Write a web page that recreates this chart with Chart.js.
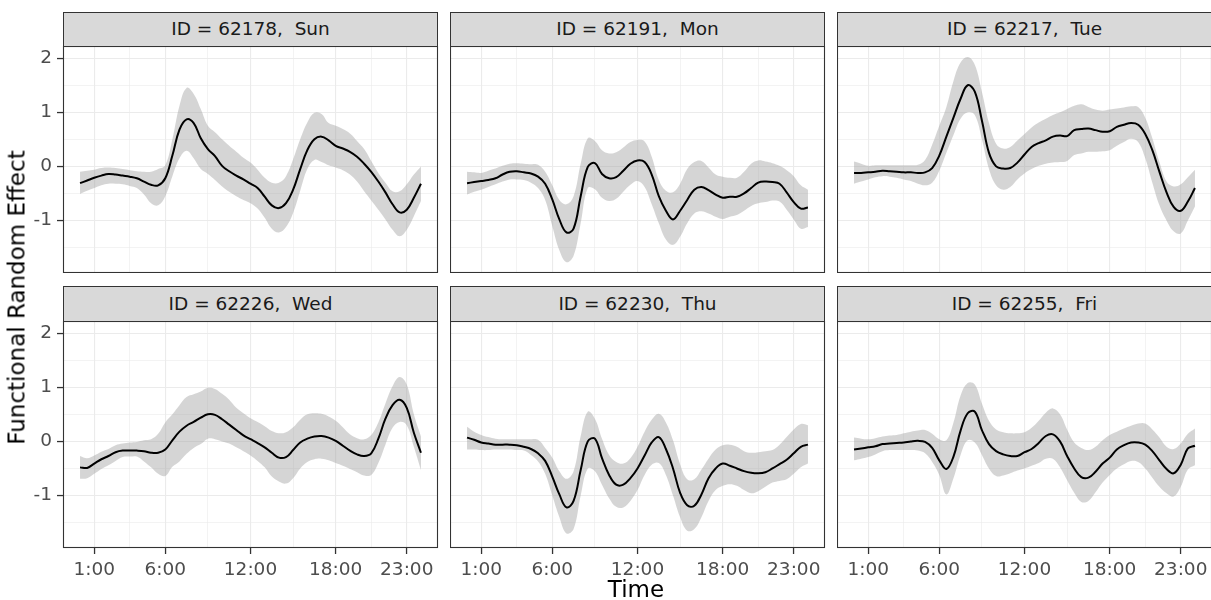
<!DOCTYPE html>
<html>
<head>
<meta charset="utf-8">
<script src="https://cdn.jsdelivr.net/npm/chart.js@4.4.1/dist/chart.umd.min.js"></script>
<style>
html,body{margin:0;padding:0;background:#ffffff;}
#wrap{position:relative;width:1211px;height:600px;overflow:hidden;font-family:"DejaVu Sans",sans-serif;background:#fff;}
#wrap canvas{position:absolute;}
.strip{position:absolute;box-sizing:border-box;background:#D9D9D9;border:1px solid #333333;color:#1A1A1A;font-size:18.5px;white-space:pre;display:flex;align-items:center;justify-content:center;line-height:1;}
.title{position:absolute;color:#000;font-size:23px;line-height:23px;height:23px;text-align:center;white-space:nowrap;}
</style>
</head>
<body>
<div id="wrap"></div>
<script>
// ---------------- data ----------------
const hours = [0,0.5,1,1.5,2,2.5,3,3.5,4,4.5,5,5.5,6,6.5,7,7.5,8,8.5,9,9.5,10,10.5,11,11.5,12,12.5,13,13.5,14,14.5,15,15.5,16,16.5,17,17.5,18,18.5,19,19.5,20,20.5,21,21.5,22,22.5,23,23.5,24];

const xTickValues = [1,6,12,18,23];
const xTickLabels = ['1:00','6:00','12:00','18:00','23:00'];
const xMinorValues = [3.5,9,15,20.5];
const yTickValues = [-1,0,1,2];
const yTickLabels = ['-1','0','1','2'];
const yMinorValues = [-1.5,-0.5,0.5,1.5];

const panelIds  = ['62178','62191','62217','62226','62230','62255'];
const panelDays = ['Sun','Mon','Tue','Wed','Thu','Fri'];

const fit62178 = [-0.31,-0.26,-0.21,-0.17,-0.14,-0.15,-0.17,-0.19,-0.22,-0.28,-0.34,-0.35,-0.22,0.20,0.68,0.87,0.80,0.52,0.32,0.19,0.01,-0.09,-0.17,-0.24,-0.32,-0.40,-0.56,-0.72,-0.77,-0.68,-0.43,-0.05,0.30,0.50,0.55,0.48,0.38,0.33,0.27,0.18,0.05,-0.10,-0.28,-0.48,-0.70,-0.85,-0.80,-0.58,-0.32];
const upper62178 = [-0.10,-0.08,-0.06,-0.03,-0.02,-0.03,-0.05,-0.07,-0.09,-0.10,-0.10,-0.05,0.02,0.50,1.12,1.45,1.34,1.06,0.75,0.63,0.50,0.38,0.27,0.16,0.07,-0.06,-0.21,-0.30,-0.30,-0.18,0.13,0.50,0.81,0.99,0.97,0.80,0.75,0.69,0.61,0.47,0.32,0.10,-0.12,-0.30,-0.46,-0.46,-0.33,-0.15,0.00];
const lower62178 = [-0.51,-0.45,-0.40,-0.35,-0.32,-0.32,-0.33,-0.36,-0.40,-0.52,-0.68,-0.72,-0.55,-0.18,0.15,0.29,0.15,-0.05,-0.14,-0.25,-0.37,-0.47,-0.55,-0.62,-0.68,-0.78,-0.95,-1.15,-1.22,-1.12,-0.86,-0.45,-0.05,0.12,0.08,0.02,-0.02,-0.07,-0.15,-0.28,-0.46,-0.63,-0.80,-0.98,-1.17,-1.29,-1.17,-0.92,-0.64];

const fit62191 = [-0.31,-0.29,-0.27,-0.25,-0.22,-0.15,-0.10,-0.09,-0.11,-0.13,-0.19,-0.32,-0.61,-0.98,-1.22,-1.15,-0.55,-0.01,0.06,-0.14,-0.22,-0.20,-0.08,0.05,0.11,0.08,-0.15,-0.55,-0.82,-0.98,-0.82,-0.62,-0.43,-0.38,-0.44,-0.52,-0.58,-0.56,-0.56,-0.50,-0.40,-0.30,-0.28,-0.29,-0.32,-0.48,-0.66,-0.78,-0.76];
const upper62191 = [-0.10,-0.11,-0.12,-0.08,-0.04,0.01,0.05,0.06,0.05,0.04,0.03,-0.10,-0.35,-0.62,-0.70,-0.55,0.05,0.52,0.47,0.30,0.24,0.26,0.35,0.45,0.49,0.46,0.18,-0.25,-0.45,-0.48,-0.32,-0.05,0.08,0.10,-0.02,-0.15,-0.19,-0.21,-0.21,-0.10,0.05,0.11,0.09,0.06,0.01,-0.07,-0.18,-0.35,-0.43];
const lower62191 = [-0.52,-0.47,-0.43,-0.38,-0.33,-0.28,-0.24,-0.24,-0.25,-0.30,-0.40,-0.62,-1.10,-1.55,-1.77,-1.65,-1.05,-0.40,-0.42,-0.58,-0.64,-0.60,-0.47,-0.34,-0.27,-0.38,-0.70,-1.05,-1.35,-1.45,-1.30,-1.05,-0.87,-0.83,-0.87,-0.93,-0.97,-0.93,-0.90,-0.82,-0.73,-0.68,-0.66,-0.63,-0.65,-0.80,-0.98,-1.15,-1.12];

const fit62217 = [-0.12,-0.12,-0.11,-0.10,-0.08,-0.09,-0.10,-0.11,-0.11,-0.12,-0.11,-0.03,0.20,0.55,0.90,1.25,1.50,1.38,0.85,0.25,0.00,-0.04,-0.03,0.07,0.22,0.36,0.43,0.48,0.55,0.57,0.56,0.67,0.69,0.70,0.67,0.64,0.65,0.73,0.77,0.80,0.77,0.60,0.30,-0.10,-0.48,-0.75,-0.82,-0.65,-0.40];
const upper62217 = [0.09,0.05,0.01,0.02,0.02,0.02,0.02,0.02,0.02,0.03,0.12,0.40,0.75,1.10,1.58,1.92,2.02,1.88,1.38,0.80,0.42,0.33,0.36,0.48,0.60,0.72,0.81,0.88,0.95,1.00,1.06,1.12,1.15,1.10,1.05,1.03,1.05,1.07,1.09,1.11,1.10,0.90,0.52,0.08,-0.28,-0.37,-0.33,-0.20,-0.06];
const lower62217 = [-0.32,-0.28,-0.24,-0.20,-0.18,-0.19,-0.21,-0.24,-0.27,-0.32,-0.35,-0.30,-0.08,0.25,0.58,0.88,1.00,0.95,0.50,-0.05,-0.35,-0.43,-0.38,-0.24,-0.13,-0.05,0.01,0.05,0.07,0.08,0.10,0.21,0.24,0.27,0.27,0.28,0.30,0.38,0.45,0.51,0.45,0.15,-0.30,-0.72,-1.00,-1.20,-1.24,-1.00,-0.74];

const fit62226 = [-0.48,-0.49,-0.41,-0.33,-0.27,-0.20,-0.17,-0.17,-0.17,-0.18,-0.21,-0.21,-0.15,0.02,0.18,0.29,0.36,0.44,0.50,0.49,0.41,0.31,0.21,0.11,0.04,-0.03,-0.11,-0.21,-0.30,-0.29,-0.16,-0.02,0.05,0.09,0.10,0.07,0.01,-0.08,-0.17,-0.24,-0.27,-0.22,0.05,0.42,0.67,0.77,0.62,0.16,-0.21];
const upper62226 = [-0.27,-0.31,-0.26,-0.19,-0.14,-0.07,-0.04,-0.02,-0.01,0.02,0.04,0.14,0.35,0.50,0.67,0.82,0.87,0.92,0.99,0.97,0.88,0.77,0.62,0.52,0.43,0.36,0.28,0.19,0.15,0.17,0.26,0.40,0.50,0.52,0.51,0.46,0.38,0.26,0.13,0.06,0.04,0.12,0.35,0.70,1.02,1.19,1.05,0.50,0.09];
const lower62226 = [-0.69,-0.68,-0.60,-0.51,-0.44,-0.36,-0.29,-0.28,-0.28,-0.37,-0.48,-0.60,-0.64,-0.47,-0.37,-0.23,-0.12,-0.05,0.05,0.04,0.00,-0.04,-0.11,-0.18,-0.26,-0.36,-0.48,-0.65,-0.74,-0.78,-0.68,-0.50,-0.38,-0.33,-0.32,-0.35,-0.40,-0.45,-0.51,-0.57,-0.63,-0.62,-0.40,-0.06,0.25,0.36,0.30,-0.10,-0.53];

const fit62230 = [0.07,0.03,-0.02,-0.04,-0.06,-0.06,-0.06,-0.07,-0.10,-0.14,-0.22,-0.36,-0.65,-0.98,-1.22,-1.10,-0.53,0.00,0.05,-0.31,-0.62,-0.80,-0.80,-0.68,-0.50,-0.26,-0.02,0.08,-0.14,-0.50,-0.95,-1.18,-1.19,-0.98,-0.68,-0.50,-0.41,-0.45,-0.50,-0.55,-0.58,-0.59,-0.57,-0.50,-0.42,-0.34,-0.22,-0.10,-0.06];
const upper62230 = [0.27,0.18,0.12,0.08,0.05,0.04,0.04,0.04,0.04,0.04,0.03,-0.12,-0.30,-0.55,-0.69,-0.55,0.10,0.55,0.42,0.05,-0.25,-0.38,-0.41,-0.31,-0.10,0.18,0.40,0.51,0.35,0.02,-0.42,-0.70,-0.70,-0.52,-0.32,-0.15,-0.07,-0.06,-0.10,-0.18,-0.21,-0.20,-0.18,-0.16,-0.06,0.08,0.22,0.32,0.30];
const lower62230 = [-0.15,-0.15,-0.16,-0.16,-0.15,-0.15,-0.15,-0.16,-0.17,-0.25,-0.37,-0.60,-1.00,-1.40,-1.70,-1.62,-1.00,-0.50,-0.55,-0.80,-1.05,-1.21,-1.22,-1.10,-0.90,-0.62,-0.43,-0.40,-0.62,-1.00,-1.40,-1.65,-1.62,-1.40,-1.10,-0.90,-0.82,-0.79,-0.82,-0.90,-0.96,-0.92,-0.84,-0.76,-0.73,-0.70,-0.60,-0.48,-0.41];

const fit62255 = [-0.15,-0.13,-0.11,-0.09,-0.05,-0.04,-0.03,-0.02,0.00,0.01,-0.01,-0.12,-0.35,-0.51,-0.28,0.20,0.52,0.55,0.21,-0.05,-0.18,-0.24,-0.27,-0.27,-0.20,-0.14,-0.03,0.10,0.13,0.00,-0.27,-0.50,-0.66,-0.67,-0.56,-0.41,-0.30,-0.15,-0.07,-0.02,-0.02,-0.06,-0.18,-0.35,-0.51,-0.59,-0.43,-0.13,-0.08];
const upper62255 = [0.07,0.05,0.04,0.06,0.09,0.11,0.12,0.15,0.18,0.20,0.21,0.14,0.04,0.02,0.35,0.85,1.08,1.05,0.70,0.38,0.22,0.17,0.15,0.15,0.17,0.25,0.38,0.53,0.61,0.50,0.22,-0.02,-0.12,-0.16,-0.10,0.02,0.12,0.18,0.24,0.29,0.33,0.33,0.22,0.07,-0.10,-0.14,-0.04,0.14,0.24];
const lower62255 = [-0.35,-0.32,-0.29,-0.24,-0.18,-0.16,-0.16,-0.16,-0.16,-0.17,-0.22,-0.38,-0.62,-0.98,-0.68,-0.25,0.02,-0.02,-0.25,-0.50,-0.64,-0.63,-0.59,-0.54,-0.50,-0.45,-0.40,-0.32,-0.32,-0.48,-0.72,-0.95,-1.12,-1.10,-0.94,-0.76,-0.62,-0.50,-0.42,-0.36,-0.38,-0.50,-0.67,-0.84,-0.96,-1.02,-0.84,-0.52,-0.44];

const panelFit   = [fit62178, fit62191, fit62217, fit62226, fit62230, fit62255];
const panelUpper = [upper62178, upper62191, upper62217, upper62226, upper62230, upper62255];
const panelLower = [lower62178, lower62191, lower62217, lower62226, lower62230, lower62255];

// ---------------- layout ----------------
const COL_LEFT = [63, 450, 837];
const ROW_TOP = [46, 321];
const PW = 375, PH = 227;
const STRIP_TOP = [12, 286];
const STRIP_H = [35, 36];
const X_MIN = -1.2, X_MAX = 25.2;
const Y_MIN = -1.97, Y_MAX = 2.225;
const RIBBON = 'rgba(160,160,160,0.44)';
const GRID = '#EBEBEB';
const TICK_FONT = {family:'"DejaVu Sans", sans-serif', size:18.5};
const TENSION = 0.4;

const wrap = document.getElementById('wrap');

const panelBorder = {
  id:'panelBorder',
  afterDraw(chart){
    const a = chart.chartArea, ctx = chart.ctx;
    ctx.save();
    ctx.strokeStyle = '#333333';
    ctx.lineWidth = 1.1;
    ctx.strokeRect(a.left+0.5, a.top+0.5, a.right-a.left-1, a.bottom-a.top-1);
    ctx.restore();
  }
};

function labelFor(values, labels, v){
  const k = values.indexOf(v);
  return k >= 0 ? labels[k] : '';
}

function makePanel(i){
  const col = i % 3, row = Math.floor(i / 3);
  const L = col === 0 ? 63 : 0;
  const B = row === 1 ? 50 : 0;
  const cw = L + PW + 2, ch = 1 + PH + B;
  const cv = document.createElement('canvas');
  cv.width = cw; cv.height = ch;
  cv.style.left = (COL_LEFT[col] - L) + 'px';
  cv.style.top = (ROW_TOP[row] - 1) + 'px';
  cv.style.width = cw + 'px';
  cv.style.height = ch + 'px';
  wrap.appendChild(cv);

  const strip = document.createElement('div');
  strip.className = 'strip';
  strip.style.left = COL_LEFT[col] + 'px';
  strip.style.top = STRIP_TOP[row] + 'px';
  strip.style.width = PW + 'px';
  strip.style.height = STRIP_H[row] + 'px';
  strip.textContent = 'ID = ' + panelIds[i] + ',  ' + panelDays[i];
  wrap.appendChild(strip);

  const pts = arr => hours.map((h, k) => ({x: h, y: arr[k]}));
  const xAll = xTickValues.concat(xMinorValues).sort((a,b)=>a-b);
  const yAll = yTickValues.concat(yMinorValues).sort((a,b)=>a-b);
  const isMajorX = v => xTickValues.indexOf(v) >= 0;
  const isMajorY = v => yTickValues.indexOf(v) >= 0;

  new Chart(cv, {
    type: 'line',
    data: {
      datasets: [
        {data: pts(panelLower[i]), borderWidth: 0, borderColor: 'rgba(0,0,0,0)', pointRadius: 0, fill: false, tension: TENSION},
        {data: pts(panelUpper[i]), borderWidth: 0, borderColor: 'rgba(0,0,0,0)', pointRadius: 0, fill: '-1', backgroundColor: RIBBON, tension: TENSION},
        {data: pts(panelFit[i]), borderWidth: 2, borderColor: '#000000', pointRadius: 0, fill: false, tension: TENSION}
      ]
    },
    options: {
      responsive: false, animation: false, devicePixelRatio: 1, events: [],
      layout: {padding: {top: 1, right: 2, left: 0, bottom: 0}},
      plugins: {legend: {display: false}, tooltip: {enabled: false}, filler: {drawTime: 'beforeDatasetsDraw'}},
      scales: {
        x: {
          type: 'linear', min: X_MIN, max: X_MAX,
          afterBuildTicks: s => { s.ticks = xAll.map(v => ({value: v})); },
          afterFit: s => { s.height = B; s.paddingLeft = 0; s.paddingRight = 0; s.paddingTop = 0; s.paddingBottom = 0; },
          ticks: {display: row === 1, autoSkip: false, maxRotation: 0, minRotation: 0, padding: 5, color: '#4D4D4D', font: TICK_FONT,
                  callback: v => labelFor(xTickValues, xTickLabels, v)},
          grid: {drawTicks: row === 1, tickLength: 6,
                 color: GRID,
                 lineWidth: c => (c.tick && isMajorX(c.tick.value)) ? 1.1 : 0.6,
                 tickColor: c => (c.tick && isMajorX(c.tick.value)) ? '#333333' : 'rgba(0,0,0,0)',
                 tickWidth: 1.3},
          border: {display: false}
        },
        y: {
          type: 'linear', min: Y_MIN, max: Y_MAX,
          afterBuildTicks: s => { s.ticks = yAll.map(v => ({value: v})); },
          afterFit: s => { s.width = L; s.paddingTop = 0; s.paddingBottom = 0; s.paddingLeft = 0; s.paddingRight = 0; },
          ticks: {display: col === 0, autoSkip: false, padding: 5, color: '#4D4D4D', font: TICK_FONT,
                  callback: v => labelFor(yTickValues, yTickLabels, v)},
          grid: {drawTicks: col === 0, tickLength: 6,
                 color: GRID,
                 lineWidth: c => (c.tick && isMajorY(c.tick.value)) ? 1.1 : 0.6,
                 tickColor: c => (c.tick && isMajorY(c.tick.value)) ? '#333333' : 'rgba(0,0,0,0)',
                 tickWidth: 1.3},
          border: {display: false}
        }
      }
    },
    plugins: [panelBorder]
  });
}

for (let i = 0; i < 6; i++) makePanel(i);

const xt = document.createElement('div');
xt.className = 'title';
xt.textContent = 'Time';
xt.style.left = '436px'; xt.style.width = '400px'; xt.style.top = '578px';
wrap.appendChild(xt);

const yt = document.createElement('div');
yt.className = 'title';
yt.textContent = 'Functional Random Effect';
yt.style.width = '400px';
yt.style.left = (17 - 200) + 'px';
yt.style.top = (297 - 11.5) + 'px';
yt.style.transform = 'rotate(-90deg)';
yt.style.transformOrigin = '50% 50%';
wrap.appendChild(yt);
</script>
</body>
</html>
